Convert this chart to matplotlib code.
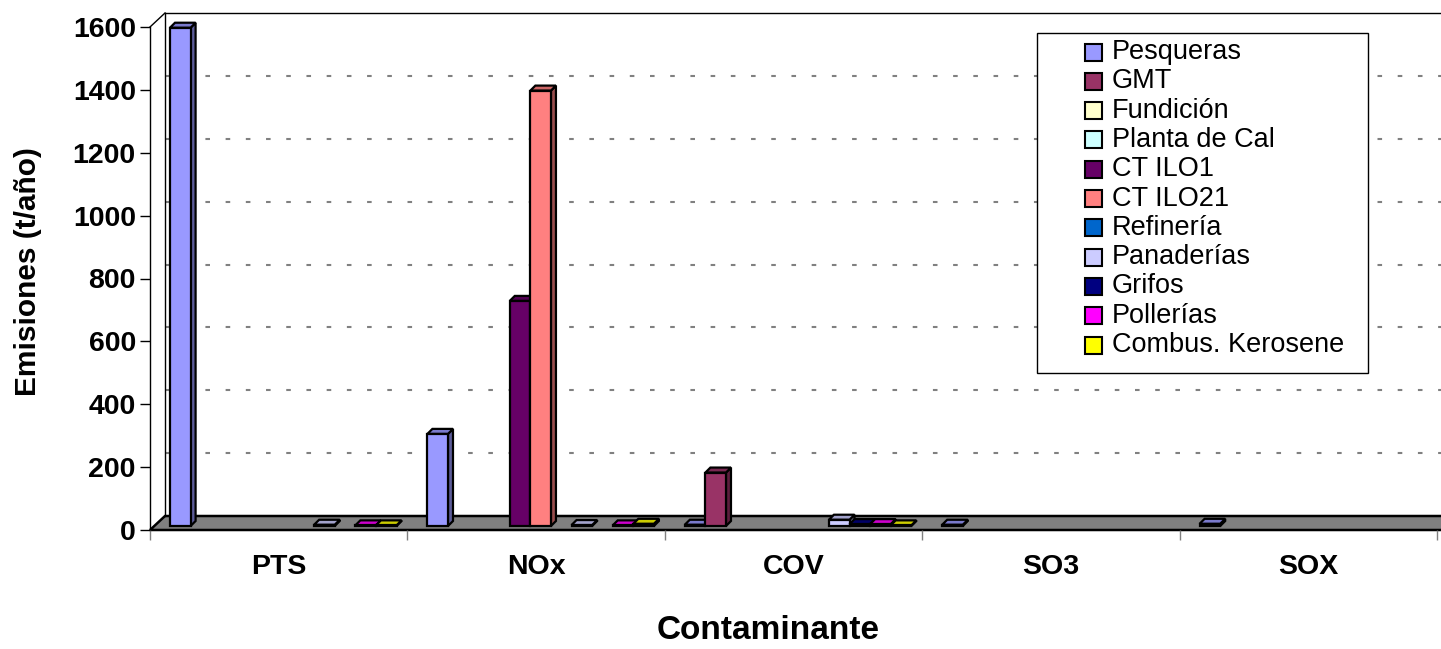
import numpy as np
import matplotlib
matplotlib.use("Agg")
import matplotlib.pyplot as plt
import matplotlib.colors as mcolors
from matplotlib.patches import Polygon, Rectangle

plt.rcParams['font.family'] = ['Liberation Sans', 'DejaVu Sans']

categories = ["PTS", "NOx", "COV", "SO3", "SOX"]
series = ["Pesqueras", "GMT", "Fundición", "Planta de Cal", "CT ILO1", "CT ILO21",
          "Refinería", "Panaderías", "Grifos", "Pollerías", "Combus. Kerosene"]
colors = ["#9999FF", "#993366", "#FFFFCC", "#CCFFFF", "#660066", "#FF8080",
          "#0066CC", "#CCCCFF", "#000080", "#FF00FF", "#FFFF00"]

# emisiones (t/año) por contaminante: PTS, NOx, COV, SO3, SOX
pesqueras = [1585, 293, 4, 4, 7]
gmt = [0, 0, 170, 0, 0]
fundicion = [0, 0, 0, 0, 0]
planta_cal = [0, 0, 0, 0, 0]
ct_ilo1 = [0, 716, 0, 0, 0]
ct_ilo21 = [0, 1385, 0, 0, 0]
refineria = [0, 0, 0, 0, 0]
panaderias = [4, 3, 20, 0, 0]
grifos = [0, 0, 6, 0, 0]
pollerias = [2, 2, 6, 0, 0]
kerosene = [2, 7, 2, 0, 0]
values = [pesqueras, gmt, fundicion, planta_cal, ct_ilo1, ct_ilo21,
          refineria, panaderias, grifos, pollerias, kerosene]

y_ticks = [0, 200, 400, 600, 800, 1000, 1200, 1400, 1600]

W, H = 1441, 649
fig = plt.figure(figsize=(W / 100, H / 100), dpi=100)
ax = fig.add_axes([150 / W, 1 - 530 / H, 1287 / W, 503 / H])
ax.set_xlim(-0.5, 4.5)
ax.set_ylim(0, 1600)
for s in ax.spines.values():
    s.set_visible(False)

cat_px = 1287 / 5
val_px = 503 / 1600


def depth(dx, dy):
    return dx / cat_px, dy / val_px


WX, WY = depth(15, 14)   # back wall offset
BX, BY = depth(0, 4)     # bar base offset
DX, DY = depth(5, 5)     # bar depth
XR = 4.7                 # right end (clipped by figure)

# floor
floor = Polygon([(-0.5, 0), (XR, 0), (XR + WX, WY), (-0.5 + WX, WY)],
                closed=True, fc="#808080", ec="black", lw=1.8, clip_on=False, zorder=1)
ax.add_patch(floor)

# back wall edges and grid
ax.plot([-0.5 + WX, -0.5 + WX], [WY, 1600 + WY], color="black", lw=1, clip_on=False, zorder=1)
ax.plot([-0.5 + WX, XR + WX], [1600 + WY, 1600 + WY], color="black", lw=1, clip_on=False, zorder=1)
ax.plot([-0.5, -0.5 + WX], [1600, 1600 + WY], color="black", lw=1, clip_on=False, zorder=1)
for t in y_ticks[1:-1]:
    ax.plot([-0.5 + WX, XR + WX], [t + WY, t + WY], color="#808080", lw=1.5,
            dashes=(2.2, 7.5), clip_on=False, zorder=0.5)
ax.plot([-0.5, -0.5], [0, 1600], color="black", lw=1, clip_on=False, zorder=1)

# bars with fake 3D faces
width = 0.08
start = 20 / cat_px
for i, (vals, c) in enumerate(zip(values, colors)):
    rgb = np.array(mcolors.to_rgb(c))
    side = rgb * 0.6
    top = rgb * 0.8
    for j, v in enumerate(vals):
        if v <= 0:
            continue
        x0 = j - 0.5 + start + i * width
        x1 = x0 + width
        b = BY
        kw = dict(closed=True, ec="black", lw=1.6, clip_on=False, zorder=2 + i * 0.01)
        ax.add_patch(Polygon([(x1, b), (x1 + DX, b + DY), (x1 + DX, b + v + DY), (x1, b + v)], fc=side, **kw))
        ax.add_patch(Polygon([(x0, b + v), (x0 + DX, b + v + DY), (x1 + DX, b + v + DY), (x1, b + v)], fc=top, **kw))
        ax.bar(x0, v, width=width, bottom=b, align="edge", color=c, edgecolor="black",
               linewidth=1.6, zorder=2 + i * 0.01, clip_on=False)

# axes ticks
ax.set_yticks(y_ticks)
ax.set_yticklabels([str(t) for t in y_ticks], fontsize=20.5, fontweight="bold")
ax.tick_params(axis="y", length=7.2, width=1, pad=3)
ax.set_xticks(np.arange(-0.5, 5, 1))
ax.set_xticklabels([])
ax.tick_params(axis="x", which="major", length=7.2, width=1, color="#808080")
ax.set_xticks(np.arange(5), minor=True)
ax.set_xticklabels(categories, minor=True, fontsize=20.5, fontweight="bold")
ax.tick_params(axis="x", which="minor", length=0, pad=17)

fig.text(28 / W, 1 - 272 / H, "Emisiones (t/año)", rotation=90, ha="center", va="center",
         fontsize=21.5, fontweight="bold")
fig.text(768 / W, 1 - 639 / H, "Contaminante", ha="center", va="baseline",
         fontsize=24, fontweight="bold")

# legend box drawn like the Excel one
fig.patches.append(Rectangle((1037 / W, 1 - 373 / H), (1368 - 1037) / W, (373 - 33) / H,
                             transform=fig.transFigure, fc="white", ec="black", lw=1))
for k, (name, c) in enumerate(zip(series, colors)):
    yc = 52 + k * 29.3
    fig.patches.append(Rectangle((1085 / W, 1 - (yc + 8.5) / H), 17 / W, 17 / H,
                                 transform=fig.transFigure, fc=c, ec="black", lw=1.5))
    fig.text(1112 / W, 1 - yc / H, name, fontsize=19.5, va="center")

fig.savefig("out.png", dpi=100)
